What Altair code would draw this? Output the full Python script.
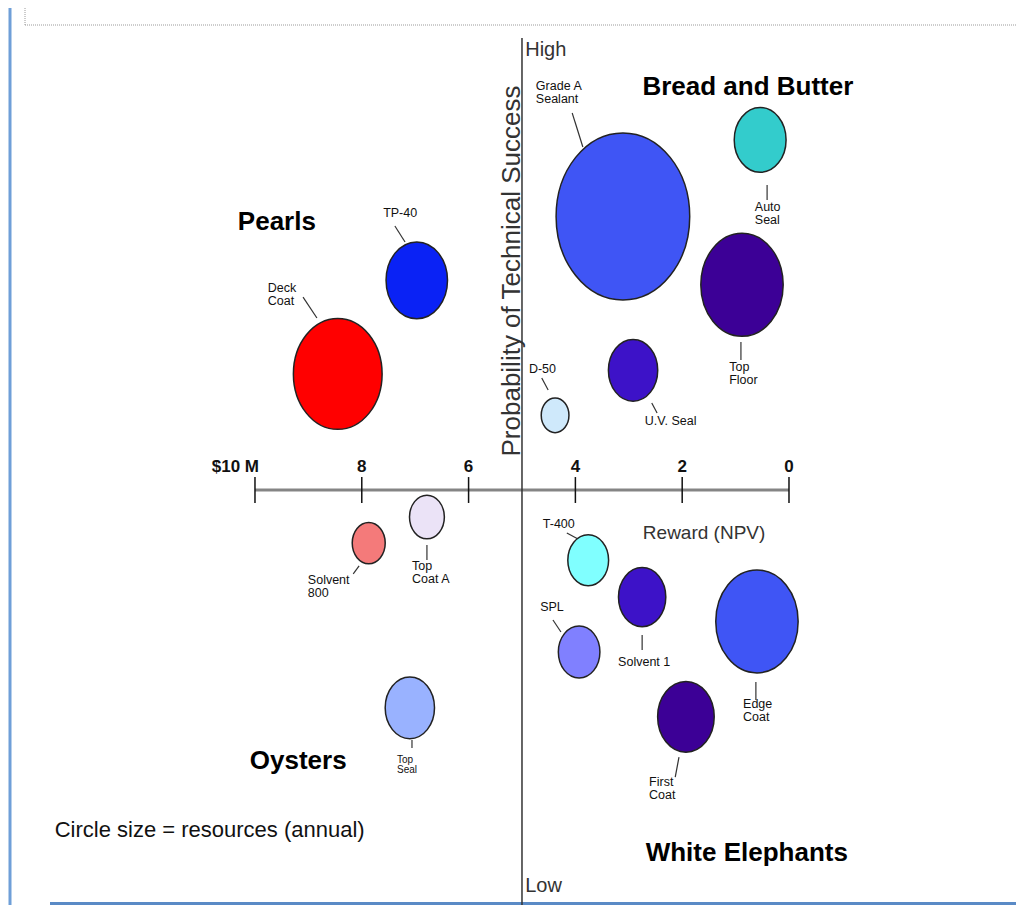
import altair as alt
import pandas as pd

# ---------------- data ----------------
projects = ["Grade A Sealant", "Auto Seal", "Top Floor", "U.V. Seal", "D-50", "TP-40", "Deck Coat",
            "Top Coat A", "Solvent 800", "Top Seal", "T-400", "Solvent 1", "SPL", "Edge Coat", "First Coat"]
# Reward (NPV, $M)
npv = [3.11, 0.54, 0.88, 2.92, 4.38, 6.97, 8.45, 6.78, 7.87, 7.10, 3.76, 2.75, 3.93, 0.60, 1.93]
# Probability of technical success (0 = low, 1 = high)
success = [0.804, 0.889, 0.728, 0.633, 0.583, 0.733, 0.629, 0.470, 0.441, 0.258, 0.422, 0.381, 0.320, 0.354, 0.248]
# Annual resources (relative units; circle size)
resources = [279, 42, 106, 38, 12, 59, 123, 19, 17, 38, 26, 35, 27, 106, 50]

label_text = ["Grade A\nSealant", "Auto\nSeal", "Top\nFloor", "U.V. Seal", "D-50", "TP-40", "Deck\nCoat",
              "Top\nCoat A", "Solvent\n800", "Top\nSeal", "T-400", "Solvent 1", "SPL", "Edge\nCoat", "First\nCoat"]
label_npv = [4.74, 0.64, 1.12, 2.70, 4.87, 7.60, 9.76, 7.06, 9.01, 7.34, 4.61, 3.20, 4.66, 0.86, 2.62]
label_success = [0.9556, 0.8211, 0.6433, 0.5833, 0.6411, 0.8144, 0.7311, 0.4222, 0.4067, 0.2056,
                 0.4689, 0.3156, 0.3767, 0.2689, 0.1822]

lead_npv1 = [4.06, 0.41, 0.90, 2.57, 4.63, 7.38, 9.10, 6.78, 8.05, 7.06, 4.16, 2.75, 4.42, 0.62, 2.06]
lead_success1 = [0.9189, 0.8389, 0.6644, 0.5967, 0.6244, 0.7933, 0.7144, 0.4389, 0.4156, 0.2222,
                 0.4522, 0.3389, 0.3556, 0.2867, 0.2033]
lead_npv2 = [3.86, 0.41, 0.90, 2.47, 4.51, 7.19, 8.84, 6.78, 8.16, 7.06, 3.95, 2.75, 4.27, 0.62, 2.13]
lead_success2 = [0.8811, 0.8222, 0.6444, 0.5856, 0.6111, 0.7756, 0.6911, 0.4222, 0.4067, 0.2133,
                 0.4456, 0.3222, 0.3422, 0.2667, 0.1811]

tick_values = [10, 8, 6, 4, 2, 0]
tick_labels = ["$10 M", "8", "6", "4", "2", "0"]

quadrants = ["Bread and Butter", "Pearls", "Oysters", "White Elephants"]
quadrant_npv = [0.77, 9.59, 9.19, 0.79]
quadrant_success = [0.9478, 0.7978, 0.1989, 0.0967]

# ---------------- styles ----------------
colors = ["#3f55f5", "#33cccc", "#3c0096", "#3d12c8", "#cfe9fb", "#0a22f5", "#ff0000",
          "#ebe3f7", "#f47a7a", "#99b2ff", "#80ffff", "#3d12c8", "#8080ff", "#3f55f5", "#3c0096"]
ELLIPSE = "M0,-1A0.8,1,0,1,1,0,1A0.8,1,0,1,1,0,-1Z"
SANS = "Liberation Sans, Arial, sans-serif"

XS = alt.Scale(domain=[-4.251, 14.625], reverse=True, nice=False, zero=False)
YS = alt.Scale(domain=[0.0389, 1.03556], nice=False, zero=False)


def xq(f):
    return alt.X(f, type="quantitative", scale=XS, axis=None)


def yq(f):
    return alt.Y(f, type="quantitative", scale=YS, axis=None)


bubble_df = pd.DataFrame({"project": projects, "npv": npv, "success": success, "resources": resources})
label_df = pd.DataFrame({"project": projects, "label": label_text, "lx": label_npv, "ly": label_success})
lead_df = pd.DataFrame({"x1": lead_npv1, "y1": lead_success1, "x2": lead_npv2, "y2": lead_success2})
tick_df = pd.DataFrame({"v": tick_values, "t": tick_labels, "top": 0.5144, "bot": 0.4856, "ly": 0.5256})
quad_df = pd.DataFrame({"q": quadrants, "x": quadrant_npv, "y": quadrant_success})
one = pd.DataFrame({"d": [0]})

# ---------------- decorations (page frame) ----------------
top_dots = alt.Chart(one).mark_rule(color="#9a9a9a", strokeWidth=1, strokeDash=[1, 1]).encode(
    x=alt.value(17), x2=alt.value(1008), y=alt.value(17))
top_dots_v = alt.Chart(one).mark_rule(color="#9a9a9a", strokeWidth=1, strokeDash=[1, 1]).encode(
    x=alt.value(17), y=alt.value(0), y2=alt.value(17))
left_bar = alt.Chart(one).mark_rule(color="#6f9fd8", strokeWidth=3).encode(
    x=alt.value(2), y=alt.value(0), y2=alt.value(897))
bottom_bar = alt.Chart(one).mark_rule(color="#5a8ac6", strokeWidth=3).encode(
    x=alt.value(42), x2=alt.value(1008), y=alt.value(895.5))

# ---------------- axes ----------------
axis_line = alt.Chart(pd.DataFrame({"a": [10], "b": [0], "y": [0.5]})).mark_rule(
    color="#858585", strokeWidth=3).encode(x=xq("a"), x2="b", y=yq("y"))
ticks = alt.Chart(tick_df).mark_rule(color="#111111", strokeWidth=1.5).encode(
    x=xq("v"), y=yq("top"), y2="bot")
tick_text = alt.Chart(tick_df).transform_filter("datum.v < 10").mark_text(
    font=SANS, fontSize=17, fontWeight="bold", color="#111111", baseline="middle").encode(
    x=xq("v"), y=yq("ly"), text="t:N")
tick_text10 = alt.Chart(tick_df).transform_filter("datum.v == 10").mark_text(
    font=SANS, fontSize=17, fontWeight="bold", color="#111111", baseline="middle", align="right", dx=4).encode(
    x=xq("v"), y=yq("ly"), text="t:N")
v_line = alt.Chart(pd.DataFrame({"x": [5.0], "a": [1.0022], "b": [0.0389]})).mark_rule(
    color="#333333", strokeWidth=1.5).encode(x=xq("x"), y=yq("a"), y2="b")

texts_df = pd.DataFrame({
    "t": ["High", "Low"], "x": [4.94, 4.94], "y": [0.9889, 0.06]})
high_low = alt.Chart(texts_df).mark_text(font=SANS, fontSize=20, color="#333333", align="left",
                                         baseline="middle").encode(x=xq("x"), y=yq("y"), text="t:N")
reward = alt.Chart(pd.DataFrame({"t": ["Reward (NPV)"], "x": [1.59], "y": [0.4522]})).mark_text(
    font=SANS, fontSize=19, color="#333333", baseline="middle").encode(x=xq("x"), y=yq("y"), text="t:N")
prob_title = alt.Chart(pd.DataFrame({"t": ["Probability of Technical Success"], "x": [4.95], "y": [0.7433]})).mark_text(
    font=SANS, fontSize=26, color="#333333", angle=270, baseline="bottom").encode(
    x=xq("x"), y=yq("y"), text="t:N")
note = alt.Chart(pd.DataFrame({"t": ["Circle size = resources (annual)"], "x": [13.75], "y": [0.1222]})).mark_text(
    font=SANS, fontSize=22, color="#111111", align="left", baseline="middle").encode(
    x=xq("x"), y=yq("y"), text="t:N")

# ---------------- bubbles and labels ----------------
leaders = alt.Chart(lead_df).mark_rule(color="#333333", strokeWidth=1.2).encode(
    x=xq("x1"), y=yq("y1"), x2="x2", y2="y2")

bubbles = alt.Chart(bubble_df).mark_point(
    shape=ELLIPSE, filled=True, opacity=1, stroke="#222222", strokeWidth=1.5).encode(
    x=xq("npv"), y=yq("success"),
    size=alt.Size("resources:Q", scale=alt.Scale(domain=[0, 300], range=[0, 30000]), legend=None),
    fill=alt.Fill("project:N", scale=alt.Scale(domain=projects, range=colors), legend=None),
    order=alt.Order("resources:Q", sort="descending"),
)

labels = alt.Chart(label_df).transform_filter("datum.project != 'Top Seal'").mark_text(
    font=SANS, fontSize=12.5, lineHeight=13, lineBreak="\n", align="left", baseline="top",
    color="#111111").encode(x=xq("lx"), y=yq("ly"), text="label:N")
labels_small = alt.Chart(label_df).transform_filter("datum.project == 'Top Seal'").mark_text(
    font=SANS, fontSize=10, lineHeight=10, lineBreak="\n", align="left", baseline="top",
    color="#111111").encode(x=xq("lx"), y=yq("ly"), text="label:N")

quad_text = alt.Chart(quad_df).mark_text(
    font=SANS, fontSize=26, fontWeight="bold", color="#000000", baseline="middle").encode(
    x=xq("x"), y=yq("y"), text="q:N")

chart = alt.layer(
    top_dots, top_dots_v, left_bar, bottom_bar,
    axis_line, ticks, v_line, tick_text, tick_text10,
    high_low, reward, prob_title, note,
    leaders, bubbles, labels, labels_small, quad_text,
).properties(
    width=1008, height=897, padding=0, autosize=alt.AutoSizeParams(type="none")
).configure_view(stroke=None)

chart.save("out.html", embed_options={"renderer": "svg", "actions": False})
